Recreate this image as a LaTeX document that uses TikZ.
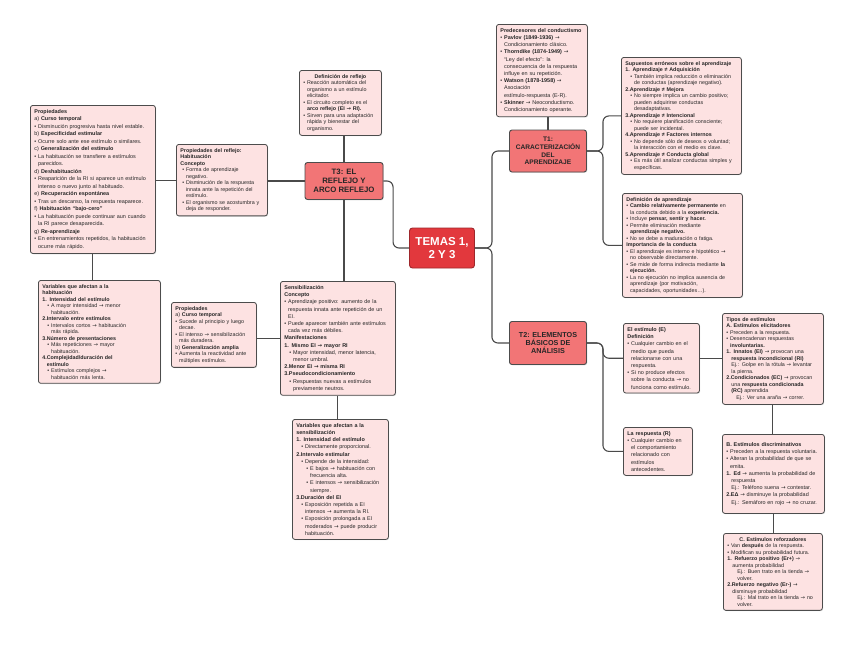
\documentclass[tikz,border=0pt]{standalone}
\usepackage{fontspec}
\usepackage{newunicodechar}
\setmainfont{Liberation Sans}
\newfontfamily\arrowfont{DejaVu Sans}
\newunicodechar{→}{{\arrowfont\symbol{"2192}}}
\usetikzlibrary{positioning,calc,shadows}
\definecolor{notefill}{HTML}{FDE2E2}
\definecolor{noteline}{HTML}{4C4C4C}
\definecolor{hubred}{HTML}{E2383D}
\definecolor{topicred}{HTML}{F27576}
\definecolor{linkgrey}{HTML}{4A4A4A}
\newcommand{\bu}{\textbullet\ }
\newcommand{\hg}{\phantom{\textbullet\ }}
\newcommand{\ind}{\hspace*{5pt}}
\tikzset{
  nbox/.style={draw=noteline,line width=0.8pt,rounded corners=2.5pt,fill=notefill,align=left,anchor=north west,
    inner xsep=4pt,inner ysep=4pt,font=\fontsize{5.45pt}{7.2pt}\selectfont,text=black!85,
    drop shadow={shadow xshift=0.8pt,shadow yshift=-0.8pt,opacity=0.25}},
  densetext/.style={font=\fontsize{5.35pt}{6.5pt}\selectfont},
  widetext/.style={font=\fontsize{5.45pt}{7.5pt}\selectfont},
  topic/.style={draw=black!70,line width=0.9pt,rounded corners=2.5pt,fill=topicred,align=center,inner sep=2pt,
    font=\bfseries\fontsize{7.2pt}{8.4pt}\selectfont,text=black!85,
    drop shadow={shadow xshift=0.8pt,shadow yshift=-0.8pt,opacity=0.25}},
  hub/.style={draw=hubred!70!black,line width=0.9pt,rounded corners=3pt,fill=hubred,align=center,text=white,
    minimum width=65,minimum height=40,font=\bfseries\fontsize{11.5pt}{13pt}\selectfont},
  link/.style={draw=linkgrey,line width=1.1pt,rounded corners=6pt}
}
\begin{document}
\begin{tikzpicture}[x=1pt,y=-1pt]
  \fill[white] (0,0) rectangle (848,646);
  \useasboundingbox (0,0) rectangle (848,646);

  % centre and topics
  \node[hub] (temas) at (442,248) {TEMAS 1,\\ 2 Y 3};
  \node[topic,minimum width=78,minimum height=37,font=\bfseries\fontsize{7.8pt}{9pt}\selectfont] (t3) at (344,181) {T3: EL\\ REFLEJO Y\\ ARCO REFLEJO};
  \node[topic,minimum width=77,minimum height=42,font=\bfseries\fontsize{6.6pt}{7.6pt}\selectfont] (t1) at (548,151) {T1:\\ CARACTERIZACIÓN\\ DEL\\ APRENDIZAJE};
  \node[topic,minimum width=77,minimum height=43] (t2) at (548,343) {T2: ELEMENTOS\\ BÁSICOS DE\\ ANÁLISIS};

  % T3 side
  \node[nbox,widetext,text width=117] (habprop) at (30,105) {\textbf{Propiedades}\\
a) \textbf{Curso temporal}\\
\bu Disminución progresiva hasta nivel estable.\\
b) \textbf{Especificidad estimular}\\
\bu Ocurre solo ante ese estímulo o similares.\\
c) \textbf{Generalización del estímulo}\\
\bu La habituación se transfiere a estímulos\\
\hg parecidos.\\
d) \textbf{Deshabituación}\\
\bu Reaparición de la RI si aparece un estímulo\\
\hg intenso o nuevo junto al habituado.\\
e) \textbf{Recuperación espontánea}\\
\bu Tras un descanso, la respuesta reaparece.\\
f) \textbf{Habituación “bajo-cero”}\\
\bu La habituación puede continuar aun cuando\\
\hg la RI parece desaparecida.\\
g) \textbf{Re-aprendizaje}\\
\bu En entrenamientos repetidos, la habituación\\
\hg ocurre más rápido.};

  \node[nbox,densetext,text width=114] (habvar) at (38,280) {\textbf{Variables que afectan a la}\\
\textbf{habituación}\\
\textbf{1. Intensidad del estímulo}\\
\ind\bu A mayor intensidad → menor\\
\ind\hg habituación.\\
\textbf{2.Intervalo entre estímulos}\\
\ind\bu Intervalos cortos → habituación\\
\ind\hg más rápida.\\
\textbf{3.Número de presentaciones}\\
\ind\bu Más repeticiones → mayor\\
\ind\hg habituación.\\
\textbf{4.Complejidad/duración del}\\
\textbf{\phantom{4.}estímulo}\\
\ind\bu Estímulos complejos →\\
\ind\hg habituación más lenta.};

  \node[nbox,densetext,text width=83] (reflprop) at (176,144) {\textbf{Propiedades del reflejo:}\\
\textbf{Habituación}\\
\textbf{Concepto}\\
\hspace*{2pt}\bu Forma de aprendizaje\\
\hspace*{2pt}\hg negativo.\\
\hspace*{2pt}\bu Disminución de la respuesta\\
\hspace*{2pt}\hg innata ante la repetición del\\
\hspace*{2pt}\hg estímulo.\\
\hspace*{2pt}\bu El organismo se acostumbra y\\
\hspace*{2pt}\hg deja de responder.};

  \node[nbox,densetext,text width=74] (refldef) at (299,70) {\mbox{}\hfill\textbf{Definición de reflejo}\hfill\mbox{}\\
\bu Reacción automática del\\
\hg organismo a un estímulo\\
\hg elicitador.\\
\bu El circuito completo es el\\
\hg \textbf{arco reflejo (EI → RI).}\\
\bu Sirven para una adaptación\\
\hg rápida y bienestar del\\
\hg organismo.};

  \node[nbox,densetext,text width=77] (sensprop) at (171,302) {\textbf{Propiedades}\\
a) \textbf{Curso temporal}\\
\bu Sucede al principio y luego\\
\hg decae.\\
\bu El intenso → sensibilización\\
\hg más duradera.\\
b) \textbf{Generalización amplia}\\
\bu Aumenta la reactividad ante\\
\hg múltiples estímulos.};

  \node[nbox,text width=107] (sens) at (280,281) {\textbf{Sensibilización}\\
\textbf{Concepto}\\
\bu Aprendizaje positivo: aumento de la\\
\hg respuesta innata ante repetición de un\\
\hg EI.\\
\bu Puede aparecer también ante estímulos\\
\hg cada vez más débiles.\\
\textbf{Manifestaciones}\\
\textbf{1. Mismo EI → mayor RI}\\
\ind\bu Mayor intensidad, menor latencia,\\
\ind\hg menor umbral.\\
\textbf{2.Menor EI → misma RI}\\
\textbf{3.Pseudocondicionamiento}\\
\ind\bu Respuestas nuevas a estímulos\\
\ind\hg previamente neutros.};

  \node[nbox,text width=88] (sensvar) at (292,419) {\textbf{Variables que afectan a la}\\
\textbf{sensibilización}\\
\textbf{1. Intensidad del estímulo}\\
\ind\bu Directamente proporcional.\\
\textbf{2.Intervalo estimular}\\
\ind\bu Depende de la intensidad:\\
\ind\ind\bu E bajos → habituación con\\
\ind\ind\hg frecuencia alta.\\
\ind\ind\bu E intensos → sensibilización\\
\ind\ind\hg siempre.\\
\textbf{3.Duración del EI}\\
\ind\bu Exposición repetida a EI\\
\ind\hg intensos → aumenta la RI.\\
\ind\bu Exposición prolongada a EI\\
\ind\hg moderados → puede producir\\
\ind\hg habituación.};

  % T1 side
  \node[nbox,text width=83] (pred) at (496,24) {\textbf{Predecesores del conductismo}\\
\bu \textbf{Pavlov (1849-1936)} →\\
\hg Condicionamiento clásico.\\
\bu \textbf{Thorndike (1874-1949)} →\\
\hg “Ley del efecto”: la\\
\hg consecuencia de la respuesta\\
\hg influye en su repetición.\\
\bu \textbf{Watson (1878-1958)} →\\
\hg Asociación\\
\hg estímulo-respuesta (E-R).\\
\bu \textbf{Skinner} → Neoconductismo.\\
\hg Condicionamiento operante.};

  \node[nbox,densetext,text width=112] (supu) at (621,57) {\textbf{Supuestos erróneos sobre el aprendizaje}\\
\textbf{1. Aprendizaje ≠ Adquisición}\\
\ind\bu También implica reducción o eliminación\\
\ind\hg de conductas (aprendizaje negativo).\\
\textbf{2.Aprendizaje ≠ Mejora}\\
\ind\bu No siempre implica un cambio positivo;\\
\ind\hg pueden adquirirse conductas\\
\ind\hg desadaptativas.\\
\textbf{3.Aprendizaje ≠ Intencional}\\
\ind\bu No requiere planificación consciente;\\
\ind\hg puede ser incidental.\\
\textbf{4.Aprendizaje ≠ Factores internos}\\
\ind\bu No depende sólo de deseos o voluntad;\\
\ind\hg la interacción con el medio es clave.\\
\textbf{5.Aprendizaje ≠ Conducta global}\\
\ind\bu Es más útil analizar conductas simples y\\
\ind\hg específicas.};

  \node[nbox,densetext,text width=112] (defapr) at (622,193) {\textbf{Definición de aprendizaje}\\
\bu \textbf{Cambio relativamente permanente} en\\
\hg la conducta debido a la \textbf{experiencia.}\\
\bu Incluye \textbf{pensar, sentir y hacer.}\\
\bu Permite eliminación mediante\\
\hg \textbf{aprendizaje negativo.}\\
\bu No se debe a maduración o fatiga.\\
\textbf{Importancia de la conducta}\\
\bu El aprendizaje es interno e hipotético →\\
\hg no observable directamente.\\
\bu Se mide de forma indirecta mediante \textbf{la}\\
\hg \textbf{ejecución.}\\
\bu La no ejecución no implica ausencia de\\
\hg aprendizaje (por motivación,\\
\hg capacidades, oportunidades…).};

  % T2 side
  \node[nbox,text width=68] (estim) at (623,323) {\textbf{El estímulo (E)}\\
\textbf{Definición}\\
\bu Cualquier cambio en el\\
\hg medio que pueda\\
\hg relacionarse con una\\
\hg respuesta.\\
\bu Si no produce efectos\\
\hg sobre la conducta → no\\
\hg funciona como estímulo.};

  \node[nbox,text width=61] (resp) at (623,427) {\textbf{La respuesta (R)}\\
\bu Cualquier cambio en\\
\hg el comportamiento\\
\hg relacionado con\\
\hg estímulos\\
\hg antecedentes.};

  \node[nbox,densetext,text width=93] (tipos) at (722,313) {\textbf{Tipos de estímulos}\\
\textbf{A. Estímulos elicitadores}\\
\bu Preceden a la respuesta.\\
\bu Desencadenan respuestas\\
\hg \textbf{involuntarias.}\\
\textbf{1. Innatos (EI)} → provocan una\\
\ind\textbf{respuesta incondicional (RI)}\\
\ind Ej.: Golpe en la rótula → levantar\\
\ind la pierna.\\
\textbf{2.Condicionados (EC)} → provocan\\
\ind una \textbf{respuesta condicionada}\\
\ind\textbf{(RC)} aprendida\\
\ind\ind Ej.: Ver una araña → correr.};

  \node[nbox,text width=94,minimum height=79] (discr) at (722,434) {\textbf{B. Estímulos discriminativos}\\
\bu Preceden a la respuesta voluntaria.\\
\bu Alteran la probabilidad de que se\\
\hg emita.\\
\textbf{1. Ed} → aumenta la probabilidad de\\
\ind respuesta\\
\ind Ej.: Teléfono suena → contestar.\\
\textbf{2.EΔ} → disminuye la probabilidad\\
\ind Ej.: Semáforo en rojo → no cruzar.};

  \node[nbox,densetext,text width=91] (refz) at (723,533) {\mbox{}\hfill\textbf{C. Estímulos reforzadores}\hfill\mbox{}\\
\bu Van \textbf{después} de la respuesta.\\
\bu Modifican su probabilidad futura.\\
\textbf{1. Refuerzo positivo (Er+)} →\\
\ind aumenta probabilidad\\
\ind\ind Ej.: Buen trato en la tienda →\\
\ind\ind volver.\\
\textbf{2.Refuerzo negativo (Er-)} →\\
\ind disminuye probabilidad\\
\ind\ind Ej.: Mal trato en la tienda → no\\
\ind\ind volver.};

  % connectors
  \draw[link] (t3.east) -| ([xshift=-16pt]temas.west) -- (temas.west);
  \draw[link] (temas.east) -- ([xshift=17pt]temas.east) |- (t1.west);
  \draw[link] (temas.east) -- ([xshift=17pt]temas.east) |- (t2.west);
  \draw[link] (t3.north) -- (t3.north |- refldef.south);
  \draw[link] (t3.south) -- (t3.south |- sens.north);
  \draw[link] (t3.west) -- (t3.west -| reflprop.east);
  \draw[link] (reflprop.west) -- (reflprop.west -| habprop.east);
  \draw[link] (habprop.south) -- (habprop.south |- habvar.north);
  \draw[link] (sens.west) -- (sens.west -| sensprop.east);
  \draw[link] (sens.south) -- (sens.south |- sensvar.north);
  \draw[link] (t1.north) -- (t1.north |- pred.south);
  \draw[link] (t1.east) -- ++(16,0) |- (supu.west);
  \draw[link] (t1.east) -- ++(16,0) |- (defapr.west);
  \draw[link] (t2.east) -- ++(16,0) |- (estim.west);
  \draw[link] (t2.east) -- ++(16,0) |- (resp.west);
  \draw[link] (estim.east) -- (estim.east -| tipos.west);
  \draw[link] (tipos.south) -- (tipos.south |- discr.north);
  \draw[link] (discr.south) -- (discr.south |- refz.north);
\end{tikzpicture}
\end{document}
